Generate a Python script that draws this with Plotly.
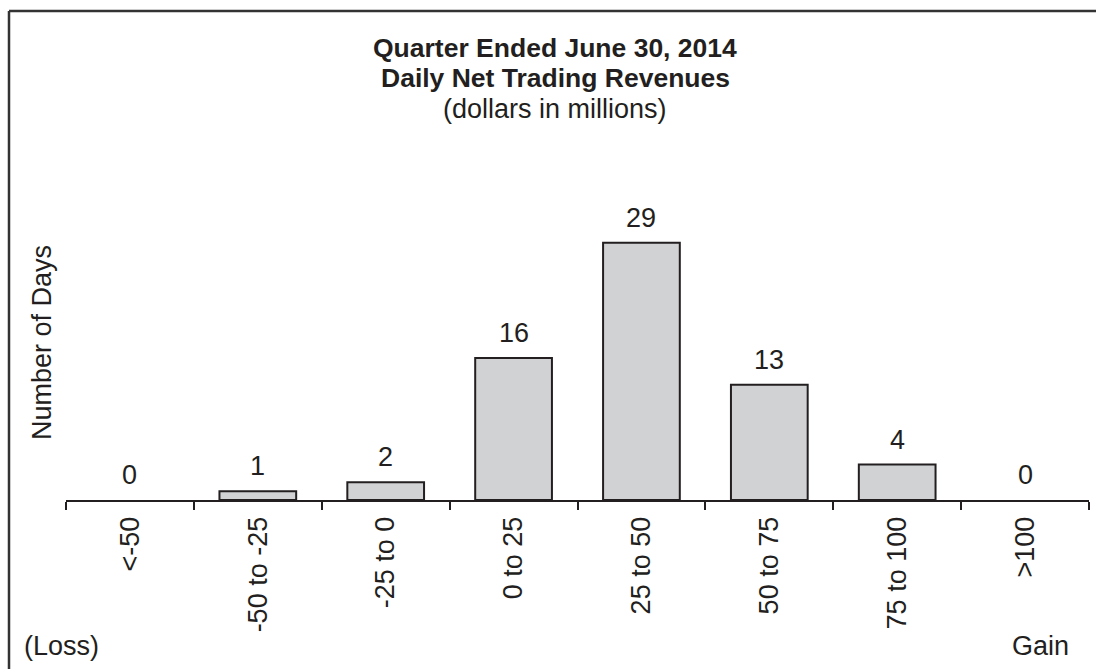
import plotly.graph_objects as go

categories = ["<-50", "-50 to -25", "-25 to 0", "0 to 25", "25 to 50", "50 to 75", "75 to 100", ">100"]
days = [0, 1, 2, 16, 29, 13, 4, 0]
title_lines = ["<b>Quarter Ended June 30, 2014</b>", "<b>Daily Net Trading Revenues</b>", "(dollars in millions)"]

W, H = 1096, 669
L, R, T, B = 66, 7, 145, 169
PW, PH = W - L - R, H - T - B
INK = "#231f20"
FONT = "Liberation Sans, Arial, sans-serif"

def px(x):
    return (x - L) / PW

def py(y):
    return (H - B - y) / PH

fig = go.Figure()
fig.add_trace(go.Bar(
    x=categories, y=days, width=0.6,
    marker=dict(color="#d1d2d4",
                line=dict(color=INK, width=[2 if v > 0 else 0 for v in days])),
    hoverinfo="x+y",
))

ann = []
for c, v in zip(categories, days):
    ann.append(dict(x=c, y=v, xref="x", yref="y", text=str(v), showarrow=False,
                    yanchor="bottom", yshift=8, font=dict(size=27, color=INK, family=FONT)))

title_y = [48, 78, 109]
for t, yy in zip(title_lines, title_y):
    ann.append(dict(x=px(555), y=py(yy), xref="paper", yref="paper", text=t, showarrow=False,
                    xanchor="center", yanchor="middle",
                    font=dict(size=26.5 if "<b>" in t else 27, color=INK, family=FONT)))

ann.append(dict(x=px(42), y=py(343), xref="paper", yref="paper", text="Number of Days",
                textangle=-90, showarrow=False, xanchor="center", yanchor="middle",
                font=dict(size=27, color=INK, family=FONT)))
ann.append(dict(x=px(22), y=py(646), xref="paper", yref="paper", text="(Loss)", showarrow=False,
                xanchor="left", yanchor="middle", font=dict(size=27, color=INK, family=FONT)))
ann.append(dict(x=px(1071), y=py(646), xref="paper", yref="paper", text="Gain", showarrow=False,
                xanchor="right", yanchor="middle", font=dict(size=27, color=INK, family=FONT)))

shapes = [
    dict(type="line", xref="paper", yref="paper", x0=px(9), x1=px(1110), y0=py(11), y1=py(11),
         line=dict(color="#333333", width=2.5)),
    dict(type="line", xref="paper", yref="paper", x0=px(9), x1=px(9), y0=py(11), y1=py(690),
         line=dict(color="#333333", width=2.5)),
]

fig.update_layout(
    width=W, height=H, autosize=False,
    margin=dict(l=L, r=R, t=T, b=B, pad=0),
    paper_bgcolor="white", plot_bgcolor="white",
    showlegend=False,
    annotations=ann, shapes=shapes,
    font=dict(family=FONT, size=27, color=INK),
    bargap=0.4,
)
fig.update_xaxes(
    type="category", showline=True, linecolor=INK, linewidth=2,
    ticks="outside", tickson="boundaries", ticklen=8, tickwidth=2, tickcolor=INK,
    tickangle=-90, tickfont=dict(size=27, color=INK, family=FONT), ticklabelstandoff=4,
    showgrid=False, zeroline=False, range=[-0.5, 7.5],
)
fig.update_yaxes(range=[0, 40], visible=False, showgrid=False, zeroline=False)

fig.write_html("out.html", config={"displayModeBar": False},
               post_script="document.body.style.margin='0px';")
